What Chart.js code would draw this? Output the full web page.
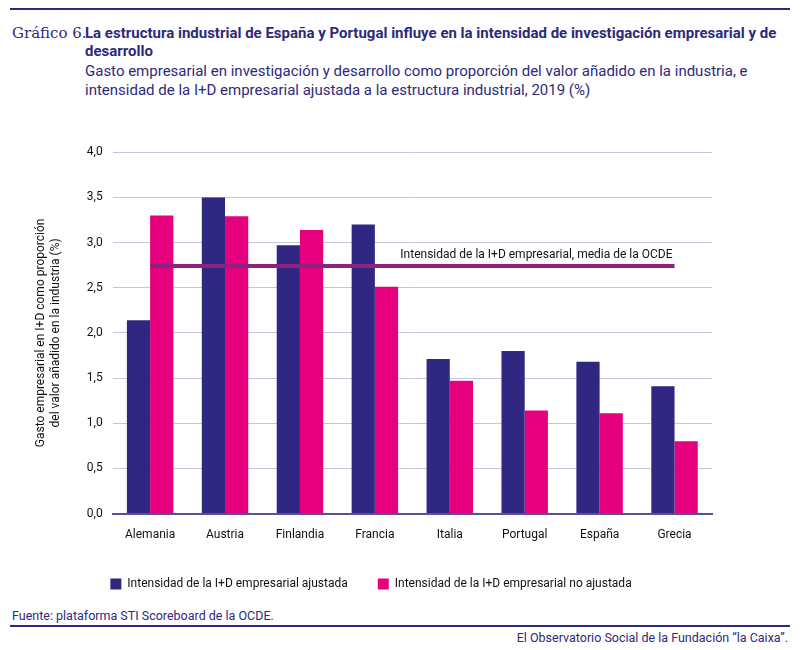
<!DOCTYPE html>
<html><head><meta charset="utf-8">
<script src="https://cdn.jsdelivr.net/npm/chart.js@4"></script>
<style>
body{margin:0;width:800px;height:650px;background:#fff;font-family:Roboto,"Liberation Sans",sans-serif;color:#2e2a7a;position:relative}
.top{position:absolute;left:10px;right:10px;top:8px;border-top:2px solid #2e2a7a}
.num{position:absolute;left:12px;top:24px;font-family:"DejaVu Serif",serif;font-size:15px}
.t{position:absolute;left:85px;top:24px;font-size:15px;font-weight:bold;width:700px;line-height:18px}
.s{position:absolute;left:85px;top:62px;font-size:15px;width:700px;line-height:19px}
#wrap{position:absolute;left:0;top:135px;width:800px;height:465px}
.src{position:absolute;left:12px;top:608px;font-size:12.5px}
.line{position:absolute;left:10px;right:10px;top:625px;border-top:2px solid #2e2a7a}
.foot{position:absolute;right:12px;top:630px;font-size:12.5px}
</style></head><body>
<div class="top"></div>
<div class="num">Gráfico 6.</div>
<div class="t">La estructura industrial de España y Portugal influye en la intensidad de investigación empresarial y de desarrollo</div>
<div class="s">Gasto empresarial en investigación y desarrollo como proporción del valor añadido en la industria, e intensidad de la I+D empresarial ajustada a la estructura industrial, 2019 (%)</div>
<div id="wrap"><canvas id="c"></canvas></div>
<div class="src">Fuente: plataforma STI Scoreboard de la OCDE.</div>
<div class="line"></div>
<div class="foot">El Observatorio Social de la Fundación “la Caixa”.</div>
<script>
const countries = ['Alemania','Austria','Finlandia','Francia','Italia','Portugal','España','Grecia'];
const adjusted = [2.14,3.50,2.97,3.20,1.71,1.80,1.68,1.41];
const unadjusted = [3.30,3.29,3.14,2.51,1.47,1.14,1.11,0.80];
const oecdMean = 2.74;
const oecdLabel = 'Intensidad de la I+D empresarial, media de la OCDE';

const lineLabel = {
  id:'lineLabel',
  afterDatasetsDraw(chart){
    const {ctx, scales:{x,y}} = chart;
    ctx.save();
    ctx.font = '12px Roboto, sans-serif';
    ctx.fillStyle = '#111';
    ctx.textAlign = 'right';
    ctx.textBaseline = 'bottom';
    ctx.fillText(oecdLabel, x.getPixelForValue(7) - 2, y.getPixelForValue(oecdMean) - 5);
    ctx.restore();
  }
};

new Chart(document.getElementById('c'), {
  data:{
    labels: countries,
    datasets:[
      {type:'line', label:'media OCDE', data: countries.map(()=>oecdMean), borderColor:'#8b2380', borderWidth:4, pointRadius:0, order:0},
      {type:'bar', label:'Intensidad de la I+D empresarial ajustada', data: adjusted, backgroundColor:'#302783', categoryPercentage:0.62, barPercentage:1, order:1},
      {type:'bar', label:'Intensidad de la I+D empresarial no ajustada', data: unadjusted, backgroundColor:'#e6007e', categoryPercentage:0.62, barPercentage:1, order:1}
    ]
  },
  options:{
    responsive:true, maintainAspectRatio:false, animation:false,
    layout:{padding:{left:30,right:88,top:12,bottom:0}},
    plugins:{
      legend:{position:'bottom', labels:{color:'#111', font:{size:12, family:'Roboto'}, boxWidth:11, boxHeight:11, padding:30,
        filter:(i)=>i.datasetIndex>0}},
      tooltip:{enabled:false}
    },
    scales:{
      x:{grid:{display:false}, border:{color:'#5a4f9a', width:2}, ticks:{color:'#111', font:{size:12, family:'Roboto'}, padding:6}},
      y:{min:0, max:4, ticks:{stepSize:0.5, color:'#111', font:{size:12, family:'Roboto'}, padding:10,
          callback:(v)=>v.toFixed(1).replace('.',',')},
         grid:{color:'#c8c4dc', drawTicks:false}, border:{display:false},
         title:{display:true, text:['Gasto empresarial en I+D como proporción','del valor añadido en la industria (%)'], color:'#111', font:{size:12, family:'Roboto'}, padding:{bottom:14}}}
    }
  },
  plugins:[lineLabel]
});
</script>
</body></html>
